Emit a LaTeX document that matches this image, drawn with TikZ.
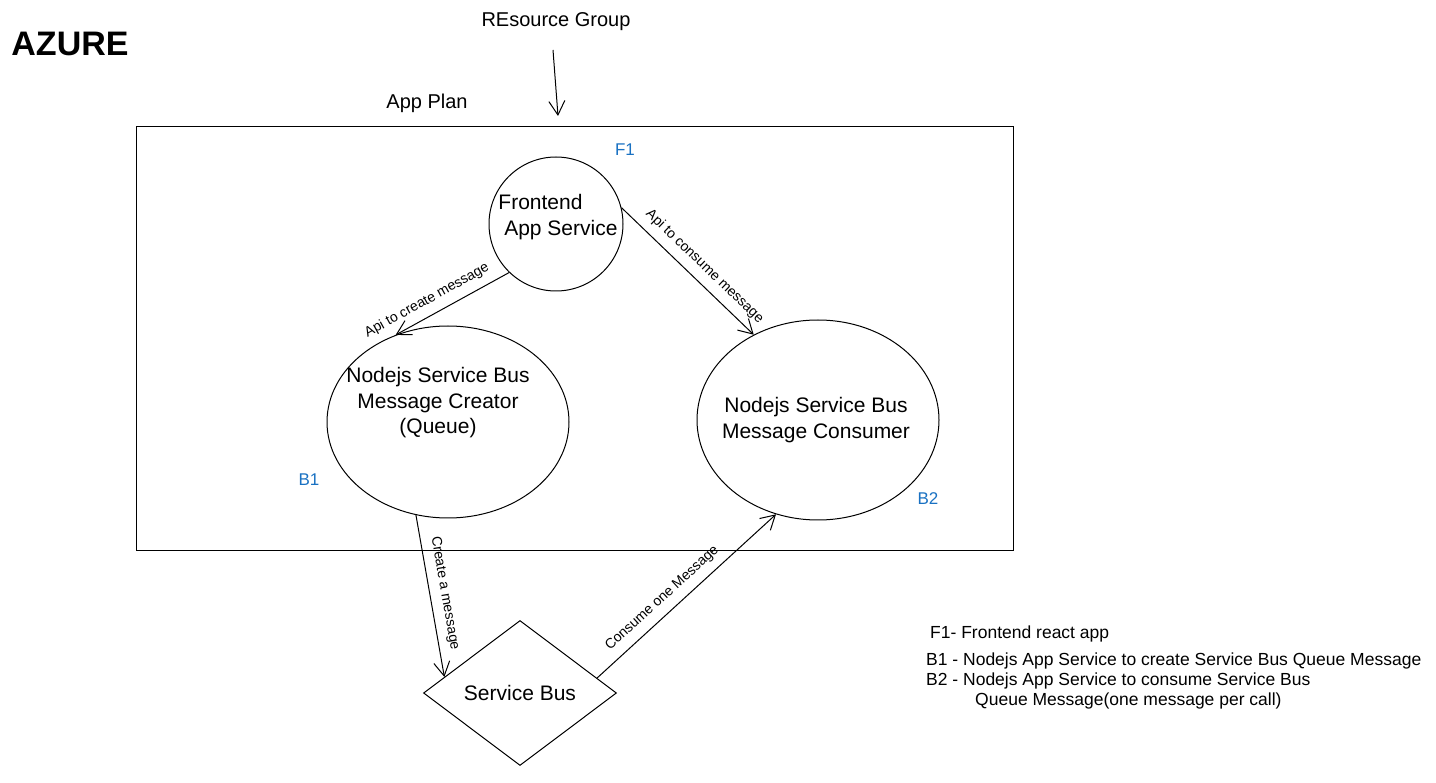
\documentclass[tikz,border=0pt]{standalone}
\usepackage{fontspec}
\setmainfont{Liberation Sans}
\usetikzlibrary{arrows.meta,shapes.geometric,positioning}
\definecolor{tagblue}{HTML}{1971C2}
\tikzset{
  post/.style    = {-{Straight Barb[length=14pt,width=16pt]}, line width=1pt},
  service/.style = {draw, ellipse, line width=1pt},
  svctext/.style = {align=center, inner sep=0pt, font=\fontsize{21}{25.5}\selectfont},
  tag/.style     = {text=tagblue, font=\fontsize{17}{20}\selectfont},
  lbl/.style     = {sloped, above, inner sep=8pt, font=\fontsize{14}{16}\selectfont},
  note/.style    = {anchor=west, inner sep=0pt, font=\fontsize{17.5}{20}\selectfont}
}
\begin{document}
\begin{tikzpicture}[x=1pt,y=-1pt]
      \useasboundingbox (0,0) rectangle (1436,783);
      %Titles
      \node (azure) at (70,44) {\fontsize{34}{40}\selectfont\bfseries AZURE};
      \node[font=\fontsize{20}{24}\selectfont] (rg) at (556,22) {REsource Group};
      \coordinate (rgend) at (558,116);
      \node[font=\fontsize{20}{24}\selectfont] (plan) at (427,103) {App Plan};
      \draw[post] (553,50) -- (rgend);
      %App plan
      \node[draw, line width=1pt, minimum width=877pt, minimum height=423pt] (appplan) at (574.5,338.5) {};
      \node[service, minimum width=134pt, minimum height=134pt] (front) at (556,224) {};
      \node[svctext, align=left] (fronttext) at (558,217) {Frontend\\ \ App Service};
      \node[service, minimum width=242pt, minimum height=192pt] (creator) at (448,422) {};
      \node[svctext] (creatortext) at (438,403) {Nodejs Service Bus\\Message Creator\\(Queue)};
      \node[service, minimum width=242pt, minimum height=200pt] (consumer) at (818,420) {};
      \node[svctext] (consumertext) at (816,420) {Nodejs Service Bus\\Message Consumer};
      \node[draw, diamond, line width=1pt, aspect=1.33, minimum width=193pt, minimum height=145pt, inner sep=0pt, font=\fontsize{21}{25}\selectfont] (sb) at (520,693) {Service Bus};
      \node[tag] (f1) at (625,150) {F1};
      \node[tag] (b1) at (309,480) {B1};
      \node[tag] (b2) at (928,499) {B2};
      %Connectors
      \draw[post] (front.226) -- node[lbl, pos=0.66] {Api to create message} (creator.121);
      \draw[post] (front.14) -- node[lbl, pos=0.55] {Api to consume message} (consumer.127);
      \draw[post] (creator.251) -- node[lbl, pos=0.5] {Create a message} (sb.168);
      \draw[post] (sb.11) -- node[lbl, pos=0.42] {Consume one Message} (consumer.246);
      %Legend
      \node[note] (lf1) at (930,634) {F1- Frontend react app};
      \node[note] (lb1) at (926,661) {B1 - Nodejs App Service to create Service Bus Queue Message};
      \node[note] (lb2) at (926,681) {B2 - Nodejs App Service to consume Service Bus};
      \node[note] (lb2b) at (975,701) {Queue Message(one message per call)};
    \end{tikzpicture}
\end{document}
